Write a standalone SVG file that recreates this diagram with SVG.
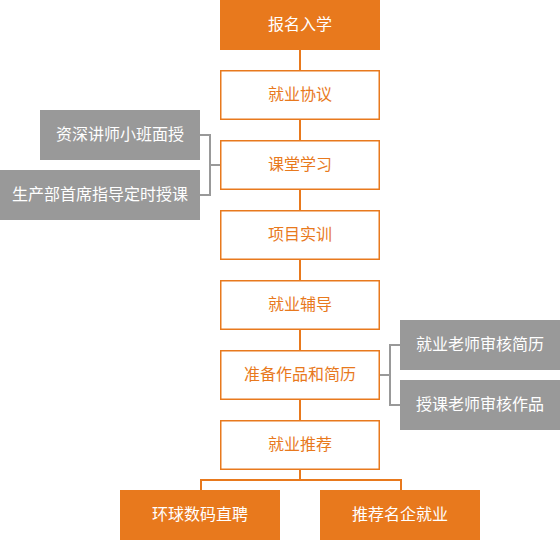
<svg xmlns="http://www.w3.org/2000/svg" width="560" height="540" viewBox="0 0 560 540">
<style>
.fill{fill:#E8791D}
.out{fill:#fff;stroke:#E8791D;stroke-width:1.5}
.gray{fill:#999}
text{font-family:"Noto Sans CJK SC","Noto Sans",sans-serif;font-size:16px;text-anchor:middle;dominant-baseline:central}
.tw{fill:#fff}
.to{fill:#E8791D}
.lo{stroke:#E8791D;stroke-width:2;fill:none}
.lg{stroke:#999;stroke-width:2;fill:none}
</style>
<g id="connectors">
<path class="lo" d="M300 50V420M300 470V480M201 490V480H401V490"/>
<path class="lg" d="M200 135H210V195H200M210 165H220"/>
<path class="lg" d="M380 375H390M400 345H390V405H400"/>
</g>
<g id="n1"><rect class="fill" x="220" y="0" width="160" height="50"/><text class="tw" x="300" y="23">报名入学</text></g>
<g id="n2"><rect class="out" x="220.75" y="70.75" width="158.5" height="48.5"/><text class="to" x="300" y="93">就业协议</text></g>
<g id="n3"><rect class="out" x="220.75" y="140.75" width="158.5" height="48.5"/><text class="to" x="300" y="163">课堂学习</text></g>
<g id="n4"><rect class="out" x="220.75" y="210.75" width="158.5" height="48.5"/><text class="to" x="300" y="233">项目实训</text></g>
<g id="n5"><rect class="out" x="220.75" y="280.75" width="158.5" height="48.5"/><text class="to" x="300" y="303">就业辅导</text></g>
<g id="n6"><rect class="out" x="220.75" y="350.75" width="158.5" height="48.5"/><text class="to" x="300" y="373">准备作品和简历</text></g>
<g id="n7"><rect class="out" x="220.75" y="420.75" width="158.5" height="48.5"/><text class="to" x="300" y="443">就业推荐</text></g>
<g id="g1"><rect class="gray" x="40" y="110" width="160" height="50"/><text class="tw" x="120" y="133">资深讲师小班面授</text></g>
<g id="g2"><rect class="gray" x="0" y="170" width="200" height="50"/><text class="tw" x="100" y="193">生产部首席指导定时授课</text></g>
<g id="g3"><rect class="gray" x="400" y="320" width="160" height="50"/><text class="tw" x="480" y="343">就业老师审核简历</text></g>
<g id="g4"><rect class="gray" x="400" y="380" width="160" height="50"/><text class="tw" x="480" y="403">授课老师审核作品</text></g>
<g id="b1"><rect class="fill" x="120" y="490" width="160" height="50"/><text class="tw" x="200" y="513">环球数码直聘</text></g>
<g id="b2"><rect class="fill" x="320" y="490" width="160" height="50"/><text class="tw" x="400" y="513">推荐名企就业</text></g>
</svg>
